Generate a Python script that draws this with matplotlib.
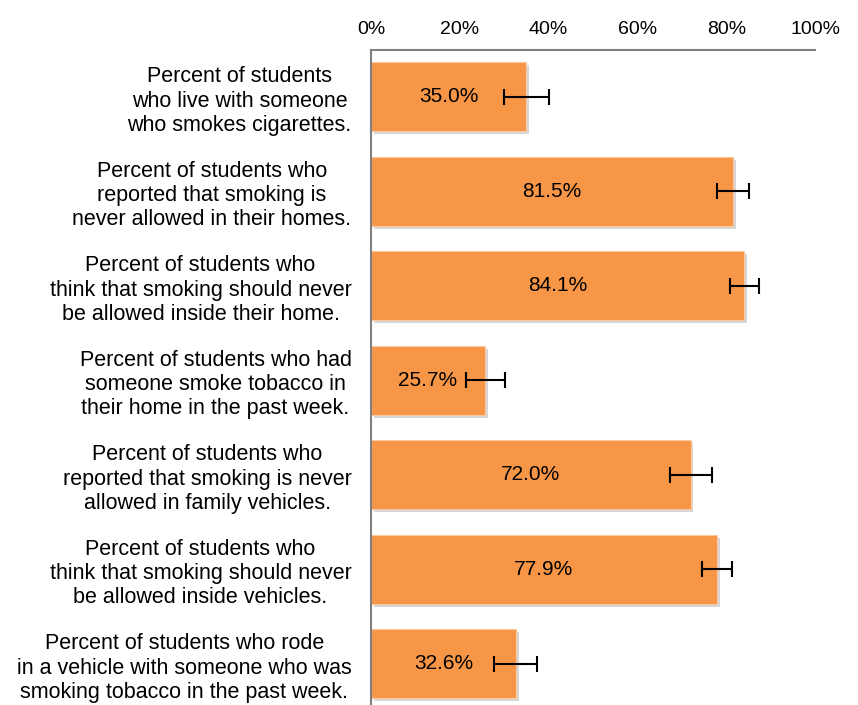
import matplotlib.pyplot as plt
import matplotlib.patheffects as pe

plt.rcParams['font.family'] = ['Liberation Sans', 'DejaVu Sans']

labels = [
    "Percent of students\nwho live with someone\nwho smokes cigarettes.",
    "Percent of students who\nreported that smoking is\nnever allowed in their homes.",
    "Percent of students who\nthink that smoking should never\nbe allowed inside their home.",
    "Percent of students who had\nsomeone smoke tobacco in\ntheir home in the past week.",
    "Percent of students who\nreported that smoking is never\nallowed in family vehicles.",
    "Percent of students who\nthink that smoking should never\nbe allowed inside vehicles.",
    "Percent of students who rode\nin a vehicle with someone who was\nsmoking tobacco in the past week.",
]
values = [35.0, 81.5, 84.1, 25.7, 72.0, 77.9, 32.6]
errors = [5.0, 3.6, 3.2, 4.4, 4.7, 3.4, 4.8]
xticks = [0, 20, 40, 60, 80, 100]

fig = plt.figure(figsize=(8.58, 7.05), dpi=100)
ax = fig.add_axes([371 / 858, 0, 444 / 858, 1 - 50 / 705])

pos = list(range(len(values)))
bars = ax.barh(pos, values, height=0.73, color='#F79646', edgecolor='#FBC9A0',
               linewidth=0.8, zorder=2)
for b in bars:
    b.set_path_effects([pe.SimplePatchShadow(offset=(2, -2), shadow_rgbFace='#999999', alpha=0.4),
                        pe.Normal()])

ax.errorbar(values, pos, xerr=errors, fmt='none', ecolor='black', elinewidth=1.5,
            capsize=6, capthick=1.5, zorder=3)

for p, v in zip(pos, values):
    ax.text(v / 2, p, f"{v:.1f}%", ha='center', va='center', fontsize=15, zorder=4)

ax.set_xlim(0, 100)
ax.set_ylim(6.434, -0.497)
ax.set_xticks(xticks)
ax.set_xticklabels([f"{t}%" for t in xticks], fontsize=14)
ax.xaxis.tick_top()
ax.tick_params(axis='x', length=0, pad=9)
ax.set_yticks(pos)
ax.set_yticklabels(labels, fontsize=15.5, ha='right', multialignment='center', linespacing=1.2)
ax.tick_params(axis='y', length=0, pad=14)

for s in ['right', 'bottom']:
    ax.spines[s].set_visible(False)
for s in ['left', 'top']:
    ax.spines[s].set_color('#808080')
    ax.spines[s].set_linewidth(1.5)

fig.savefig('out.png', dpi=100)
